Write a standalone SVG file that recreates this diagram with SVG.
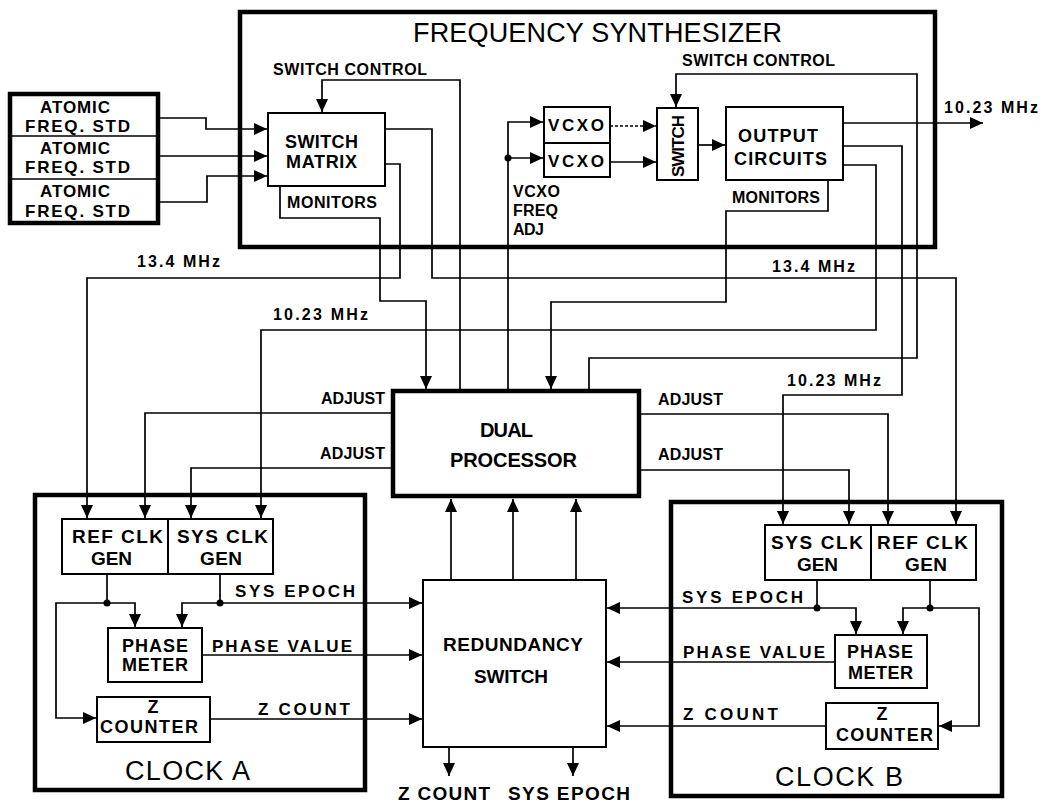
<svg xmlns="http://www.w3.org/2000/svg" width="1042" height="805" viewBox="0 0 1042 805">
<style>
.bg{fill:#fff}
.big{fill:none;stroke:#000;stroke-width:4.5}
.box{fill:#fff;stroke:#000;stroke-width:2}
.ln{fill:none;stroke:#000;stroke-width:1.7}
.ar{fill:none;stroke:#000;stroke-width:1.7;marker-end:url(#ah)}
.dot{fill:#000}
text{font-family:"Liberation Sans",Arial,sans-serif;fill:#000;font-weight:bold}
.t27{font-size:27px;font-weight:normal}
.t19{font-size:20px}
.t18{font-size:19px}
.t17{font-size:18px}
.t16{font-size:17px}
.t15{font-size:16px}
</style>
<defs>
<marker id="ah" markerUnits="userSpaceOnUse" markerWidth="13" markerHeight="12" viewBox="0 0 13 12" refX="13" refY="6" orient="auto">
<path d="M0,0 L13,6 L0,12 z" fill="#000"/>
</marker>
</defs>
<rect class="bg" x="0" y="0" width="1042" height="805"/>

<g id="connectors">
<path class="ar" d="M158,118 H206 V129 H267"/>
<path class="ar" d="M158,156 H267"/>
<path class="ar" d="M158,202 H207 V176 H267"/>
<path class="ar" d="M460,389 V80 H322 V112"/>
<path class="ar" d="M280,186 V218 H380 V301 H426 V389"/>
<path class="ar" d="M385,164 H400 V278 H87 V518"/>
<path class="ar" d="M385,129 H432 V278 H956 V524"/>
<path class="ar" d="M508,389 V122 H543"/>
<path class="ar" d="M508,158 H543"/>
<circle class="dot" cx="508" cy="158" r="3.5"/>
<path class="ar" d="M610,126 H656" stroke-dasharray="3,2"/>
<path class="ar" d="M610,162 H656"/>
<path class="ar" d="M698,145 H725"/>
<path class="ar" d="M589,389 V358 H917 V74 H676 V107"/>
<path class="ar" d="M843,123 H983"/>
<path class="ar" d="M843,146 H902 V395 H783 V524"/>
<path class="ar" d="M843,165 H876 V330 H261 V518"/>
<path class="ar" d="M828,180 V211 H726 V302 H551 V389"/>
<path class="ar" d="M393,413 H145 V518"/>
<path class="ar" d="M393,468 H191 V518"/>
<path class="ar" d="M639,414 H888 V524"/>
<path class="ar" d="M639,470 H849 V524"/>
<path class="ar" d="M451,580 V499"/>
<path class="ar" d="M513,580 V499"/>
<path class="ar" d="M576,580 V499"/>
<path class="ar" d="M449,747 V776"/>
<path class="ar" d="M573,747 V776"/>
<path class="ln" d="M107,574 V603"/>
<circle class="dot" cx="107" cy="603" r="3.5"/>
<path class="ar" d="M107,603 H56 V718 H96"/>
<path class="ar" d="M107,603 H135 V627"/>
<path class="ar" d="M220,574 V603 H422"/>
<circle class="dot" cx="220" cy="603" r="3.5"/>
<path class="ar" d="M220,603 H182 V627"/>
<path class="ar" d="M202,655 H422"/>
<path class="ar" d="M210,719 H422"/>
<path class="ar" d="M817,580 V608 H607"/>
<circle class="dot" cx="817" cy="608" r="3.5"/>
<path class="ar" d="M817,608 H856 V634"/>
<path class="ln" d="M930,580 V608"/>
<circle class="dot" cx="930" cy="608" r="3.5"/>
<path class="ar" d="M930,608 H903 V634"/>
<path class="ar" d="M930,608 H979 V726 H939"/>
<path class="ar" d="M835,662 H607"/>
<path class="ar" d="M826,726 H607"/>
</g>

<g id="freq-synth">
<rect class="big" x="240" y="12" width="695" height="235"/>
<text class="t27" x="413" y="42" textLength="369">FREQUENCY SYNTHESIZER</text>
<text class="t15" x="273" y="75" textLength="154">SWITCH CONTROL</text>
<text class="t15" x="682" y="66" textLength="153">SWITCH CONTROL</text>
<text class="t15" x="287" y="208" textLength="90">MONITORS</text>
<text class="t15" x="732" y="203" textLength="88">MONITORS</text>
<text class="t15" x="513" y="197" textLength="47">VCXO</text>
<text class="t15" x="513" y="216" textLength="45">FREQ</text>
<text class="t15" x="513" y="235" textLength="31">ADJ</text>
</g>

<g id="atomic">
<rect class="big" x="10" y="94" width="148" height="129" stroke-width="4"/>
<path class="ln" d="M10,136 H158 M10,179 H158" stroke-width="2"/>
<text class="t16" x="40" y="113" textLength="70">ATOMIC</text>
<text class="t16" x="25" y="132" textLength="105">FREQ. STD</text>
<text class="t16" x="40" y="154" textLength="70">ATOMIC</text>
<text class="t16" x="25" y="173" textLength="105">FREQ. STD</text>
<text class="t16" x="40" y="197" textLength="70">ATOMIC</text>
<text class="t16" x="25" y="217" textLength="105">FREQ. STD</text>
</g>

<g id="switch-matrix">
<rect class="box" x="268" y="113" width="117" height="73"/>
<text class="t17" x="285" y="148" textLength="73">SWITCH</text>
<text class="t17" x="286" y="168" textLength="71">MATRIX</text>
</g>

<g id="vcxo1">
<rect class="box" x="544" y="107" width="66" height="36"/>
<text class="t16" x="548" y="131" textLength="56">VCXO</text>
</g>
<g id="vcxo2">
<rect class="box" x="544" y="143" width="66" height="34"/>
<text class="t16" x="548" y="167" textLength="56">VCXO</text>
</g>

<g id="switch">
<rect class="box" x="657" y="108" width="41" height="72"/>
<text class="t16" transform="translate(684,146) rotate(-90)" text-anchor="middle" textLength="62">SWITCH</text>
</g>

<g id="output-circuits">
<rect class="box" x="726" y="107" width="117" height="73"/>
<text class="t17" x="738" y="142" textLength="80">OUTPUT</text>
<text class="t17" x="734" y="165" textLength="93">CIRCUITS</text>
</g>

<g id="labels">
<text class="t15" x="944" y="113" textLength="94">10.23 MHz</text>
<text class="t15" x="137" y="267" textLength="83">13.4  MHz</text>
<text class="t15" x="273" y="320" textLength="95">10.23 MHz</text>
<text class="t15" x="321" y="404" textLength="64">ADJUST</text>
<text class="t15" x="320" y="459" textLength="65">ADJUST</text>
<text class="t15" x="772" y="272" textLength="83">13.4  MHz</text>
<text class="t15" x="787" y="386" textLength="94">10.23 MHz</text>
<text class="t15" x="658" y="405" textLength="65">ADJUST</text>
<text class="t15" x="658" y="460" textLength="65">ADJUST</text>
<text class="t18" x="398" y="800" textLength="92">Z COUNT</text>
<text class="t18" x="508" y="800" textLength="122">SYS EPOCH</text>
</g>

<g id="dual-processor">
<rect class="big" x="393" y="391" width="246" height="105"/>
<text class="t19" x="480" y="437" textLength="53">DUAL</text>
<text class="t19" x="450" y="467" textLength="127">PROCESSOR</text>
</g>

<g id="redundancy-switch">
<rect class="box" x="423" y="580" width="183" height="167"/>
<text class="t18" x="443" y="651" textLength="140">REDUNDANCY</text>
<text class="t18" x="474" y="683" textLength="74">SWITCH</text>
</g>

<g id="clock-a">
<rect class="big" x="35" y="495" width="330" height="295"/>
<rect class="box" x="62" y="519" width="106" height="55"/>
<rect class="box" x="168" y="519" width="105" height="55"/>
<text class="t18" x="72" y="543" textLength="91">REF CLK</text>
<text class="t18" x="91" y="565" textLength="41">GEN</text>
<text class="t18" x="177" y="543" textLength="91">SYS CLK</text>
<text class="t18" x="200" y="565" textLength="42">GEN</text>
<rect class="box" x="108" y="628" width="94" height="54"/>
<text class="t17" x="122" y="652" textLength="66">PHASE</text>
<text class="t17" x="122" y="671" textLength="66">METER</text>
<rect class="box" x="97" y="697" width="113" height="45"/>
<text class="t17" x="153" y="713" text-anchor="middle">Z</text>
<text class="t17" x="100" y="733" textLength="98">COUNTER</text>
<text class="t16" x="235" y="597" textLength="120">SYS EPOCH</text>
<text class="t16" x="212" y="652" textLength="140">PHASE VALUE</text>
<text class="t16" x="258" y="715" textLength="92">Z COUNT</text>
<text class="t27" x="125" y="780" textLength="125">CLOCK A</text>
</g>

<g id="clock-b">
<rect class="big" x="671" y="502" width="331" height="294"/>
<rect class="box" x="765" y="525" width="106" height="55"/>
<rect class="box" x="871" y="525" width="105" height="55"/>
<text class="t18" x="771" y="549" textLength="92">SYS CLK</text>
<text class="t18" x="797" y="571" textLength="41">GEN</text>
<text class="t18" x="877" y="549" textLength="91">REF CLK</text>
<text class="t18" x="905" y="571" textLength="42">GEN</text>
<rect class="box" x="835" y="635" width="92" height="53"/>
<text class="t17" x="847" y="658" textLength="66">PHASE</text>
<text class="t17" x="848" y="679" textLength="65">METER</text>
<rect class="box" x="826" y="703" width="112" height="46"/>
<text class="t17" x="882" y="720" text-anchor="middle">Z</text>
<text class="t17" x="836" y="741" textLength="97">COUNTER</text>
<text class="t16" x="682" y="603" textLength="121">SYS EPOCH</text>
<text class="t16" x="683" y="658" textLength="142">PHASE VALUE</text>
<text class="t16" x="683" y="720" textLength="95">Z COUNT</text>
<text class="t27" x="775" y="786" textLength="128">CLOCK B</text>
</g>
</svg>
